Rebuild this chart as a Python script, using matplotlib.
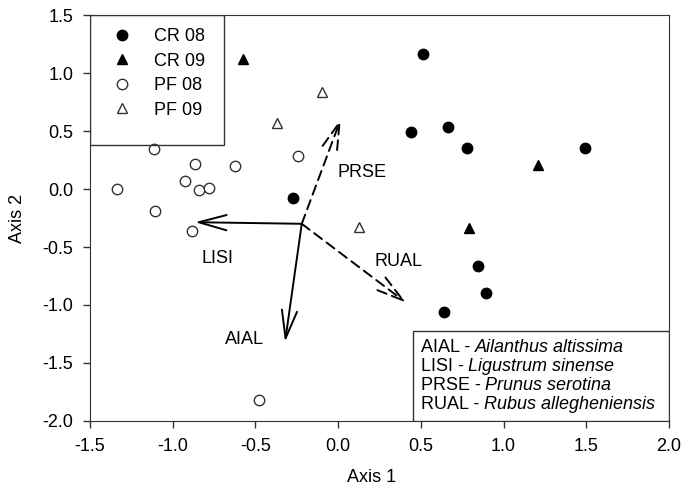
#!/usr/bin/env python3
"""Ordination plot (Axis 1 vs Axis 2) with species vectors."""

import matplotlib.pyplot as plt
from matplotlib.patches import Rectangle

plt.rcParams['font.family'] = ['Liberation Sans', 'DejaVu Sans']

# Site scores
cr08_x = [0.515, 0.441, 0.663, 0.777, 1.493, 0.844, 0.894, 0.640, -0.271]
cr08_y = [1.165, 0.488, 0.531, 0.356, 0.350, -0.664, -0.893, -1.058, -0.076]
cr09_x = [-0.577, 1.210, 0.791]
cr09_y = [1.119, 0.204, -0.340]
pf08_x = [-1.113, -0.863, -0.623, -0.244, -0.924, -0.841, -0.781, -1.109, -0.885, -1.335, -0.478]
pf08_y = [0.345, 0.219, 0.196, 0.282, 0.067, -0.008, 0.006, -0.191, -0.363, 0.000, -1.816]
pf09_x = [-0.371, -0.100, 0.128]
pf09_y = [0.569, 0.832, -0.329]

# Species vectors
vec_origin = (-0.22, -0.30)
vec_names = ['PRSE', 'LISI', 'RUAL', 'AIAL']
vec_tips = [(0.016, 0.603), (-0.865, -0.286), (0.410, -0.979), (-0.321, -1.318)]
vec_dashed = [True, False, True, False]
vec_label_pos = [(0.143, 0.144), (-0.728, -0.598), (0.364, -0.621), (-0.567, -1.300)]

key_codes = ['AIAL', 'LISI', 'PRSE', 'RUAL']
key_names = ['Ailanthus altissima', 'Ligustrum sinense', 'Prunus serotina', 'Rubus allegheniensis']

fs = 13
fig = plt.figure(figsize=(6.83, 4.94), dpi=100)
ax = fig.add_axes([0.1318, 0.1478, 0.8477, 0.8218])

ms = 7.5
ax.plot(cr08_x, cr08_y, 'o', color='black', markersize=ms, label='CR 08')
ax.plot(cr09_x, cr09_y, '^', color='black', markersize=ms, label='CR 09')
ax.plot(pf08_x, pf08_y, 'o', mfc='white', mec='#333333', mew=1.0, markersize=ms, label='PF 08')
ax.plot(pf09_x, pf09_y, '^', mfc='white', mec='#333333', mew=1.0, markersize=ms, label='PF 09')

for name, tip, dashed, lpos in zip(vec_names, vec_tips, vec_dashed, vec_label_pos):
    ax.annotate('', xy=tip, xytext=vec_origin,
                arrowprops=dict(arrowstyle='->,head_length=2.0,head_width=0.55',
                                mutation_scale=10, color='black', lw=1.4,
                                linestyle=(0, (5, 3)) if dashed else '-',
                                shrinkA=0, shrinkB=0))
    ax.text(lpos[0], lpos[1], name, ha='center', va='center', fontsize=fs)

ax.set_xlim(-1.5, 2.0)
ax.set_ylim(-2.0, 1.5)
ax.set_xticks([-1.5, -1.0, -0.5, 0.0, 0.5, 1.0, 1.5, 2.0])
ax.set_yticks([-2.0, -1.5, -1.0, -0.5, 0.0, 0.5, 1.0, 1.5])
ax.xaxis.set_major_formatter(plt.FormatStrFormatter('%.1f'))
ax.yaxis.set_major_formatter(plt.FormatStrFormatter('%.1f'))
ax.tick_params(direction='out', length=5, width=1, labelsize=fs, pad=7,
               colors='#333333', labelcolor='black')
for sp in ax.spines.values():
    sp.set_color('#333333')
ax.set_xlabel('Axis 1', fontsize=fs)
ax.set_ylabel('Axis 2', fontsize=fs)
ax.xaxis.set_label_coords(0.487, -0.118)
ax.yaxis.set_label_coords(-0.11, 0.5)

# Legend, upper left, with a square frame drawn by hand
ax.legend(loc='upper left', bbox_to_anchor=(0.0397, 0.968), borderaxespad=0, borderpad=0,
          frameon=False, fontsize=fs, handletextpad=1.25, labelspacing=0.42,
          handlelength=1.0)
ax.add_patch(Rectangle((0, 0.680), 0.2314, 0.320, transform=ax.transAxes, fill=False,
                       edgecolor='#333333', lw=1.0, zorder=3))

# Species key box, lower right
box_x0, box_y1 = 0.558, 0.221
ax.add_patch(Rectangle((box_x0, 0), 1 - box_x0, box_y1, transform=ax.transAxes,
                       facecolor='white', edgecolor='#333333', lw=1.0, zorder=3))
fig.canvas.draw()
renderer = fig.canvas.get_renderer()
for i, (code, name) in enumerate(zip(key_codes, key_names)):
    y = 0.182 - i * 0.0475
    t = ax.text(0.571, y, code + ' - ', fontsize=fs, transform=ax.transAxes,
                va='center', ha='left', zorder=4)
    bb = t.get_window_extent(renderer).transformed(ax.transAxes.inverted())
    ax.text(bb.x1, y, name, fontsize=fs, style='italic', transform=ax.transAxes,
            va='center', ha='left', zorder=4)

plt.savefig('out.png', dpi=100)
plt.close()
